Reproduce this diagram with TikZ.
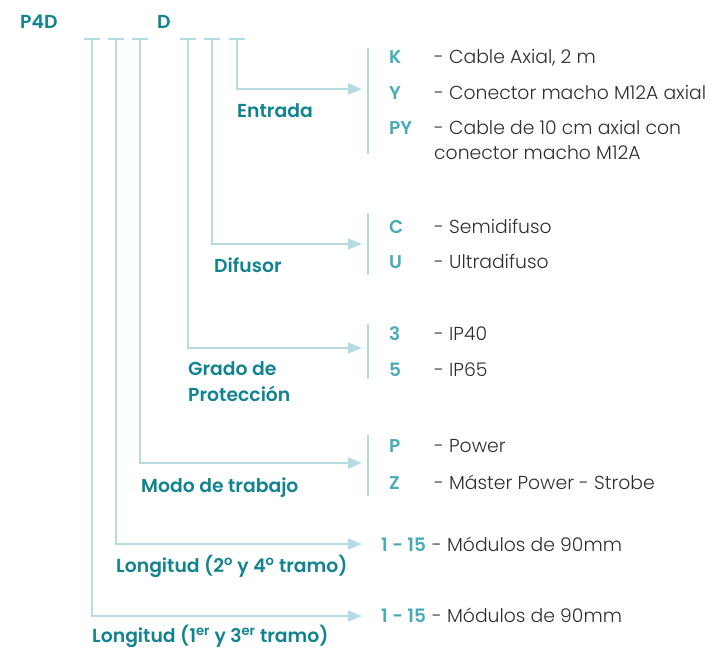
\documentclass[tikz,border=0pt]{standalone}
\usepackage{fontspec}
\setmainfont{Poppins}[UprightFont={* Light}, BoldFont={* SemiBold}]
\usepackage{tikz}
\usetikzlibrary{positioning}
\usetikzlibrary{calc}
\usetikzlibrary{arrows.meta}

\definecolor{tealdark}{HTML}{12848F}
\definecolor{teallight}{HTML}{4AABB8}
\definecolor{tealline}{HTML}{B5DCE3}
\definecolor{greytext}{HTML}{2E2E2E}

\tikzset{
  wire/.style={draw=tealline, line width=1.4pt},
  toarrow/.style={wire, -{Triangle[length=14pt,width=11pt]}},
  lbl/.style={inner sep=0pt, anchor=base west, text=tealdark, font=\fontsize{18.8}{22}\selectfont\bfseries},
  code/.style={inner sep=0pt, anchor=base west, text=teallight, font=\fontsize{18.5}{22}\selectfont\bfseries},
  desc/.style={inner sep=0pt, anchor=base west, text=greytext, font=\fontsize{18.8}{22}\selectfont},
}

\begin{document}
\begin{tikzpicture}[x=1pt, y=-1pt]
\useasboundingbox (0,0) rectangle (713,649);
\node[lbl] (p4d) at (20,28) {P4D};
\node[lbl] (dd) at (157,28) {D};
%%%%%%%%%%%%%% slots
\foreach \n/\x in {1/92,2/116,3/140,4/188,5/212,6/237}{
  \coordinate (s\n) at (\x,39);
  \draw[wire] ($(s\n)+(-8,0)$) -- ($(s\n)+(8,0)$);
}
%%%%%%%%%%%%%% bends and tips
\coordinate (b6) at (237,89);   \coordinate (t6) at (362,89);
\coordinate (b5) at (212,244);  \coordinate (t5) at (362,244);
\coordinate (b4) at (188,348);  \coordinate (t4) at (362,348);
\coordinate (b3) at (140,463);  \coordinate (t3) at (362,463);
\coordinate (b2) at (116,544);  \coordinate (t2) at (362,544);
\coordinate (b1) at (92,616);   \coordinate (t1) at (362,616);
%%%%%%%%%%%%%% brackets
\coordinate (k6a) at (368,48);  \coordinate (k6b) at (368,154);
\coordinate (k5a) at (368,213); \coordinate (k5b) at (368,275);
\coordinate (k4a) at (368,324); \coordinate (k4b) at (368,379);
\coordinate (k3a) at (368,435); \coordinate (k3b) at (368,496);
%%%%%%%%%%%%%% Entrada
\node[lbl] (entrada) at (237,117) {Entrada};
\node[code] (ck) at (389,63) {K};
\node[desc] (dk) at (434,63) {- Cable Axial, 2 m};
\node[code] (cy) at (389,99) {Y};
\node[desc] (dy) at (434,99) {- Conector macho M12A axial};
\node[code] (cpy) at (389,134) {PY};
\node[desc] (dpy) at (434,134) {- Cable de 10 cm axial con};
\node[desc] (dpy2) at (434,159) {conector macho M12A};
%%%%%%%%%%%%%% Difusor
\node[lbl] (difusor) at (214,272) {Difusor};
\node[code] (cc) at (389,233) {C};
\node[desc] (dc) at (434,233) {- Semidifuso};
\node[code] (cu) at (389,268) {U};
\node[desc] (du) at (434,268) {- Ultradifuso};
%%%%%%%%%%%%%% Grado de proteccion
\node[lbl] (grado) at (188,375) {Grado de};
\node[lbl] (proteccion) at (188,401) {Protección};
\node[code] (c3) at (389,340) {3};
\node[desc] (d3) at (434,340) {- IP40};
\node[code] (c5) at (389,376) {5};
\node[desc] (d5) at (434,376) {- IP65};
%%%%%%%%%%%%%% Modo de trabajo
\node[lbl] (modo) at (141,492) {Modo de trabajo};
\node[code] (cp) at (389,452) {P};
\node[desc] (dp) at (434,452) {- Power};
\node[code] (cz) at (389,489) {Z};
\node[desc] (dz) at (434,489) {- Máster Power - Strobe};
%%%%%%%%%%%%%% Longitud
\node[lbl] (long2) at (116,572) {Longitud (2\textsuperscript{o} y 4\textsuperscript{o} tramo)};
\node[code] (c15b) at (381,551) {1 - 15};
\node[desc] (d15b) at (432,551) {- Módulos de 90mm};
\node[lbl] (long1) at (92,642) {Longitud (1\textsuperscript{er} y 3\textsuperscript{er} tramo)};
\node[code] (c15a) at (381,622) {1 - 15};
\node[desc] (d15a) at (432,622) {- Módulos de 90mm};

\draw[toarrow] (s6) |- (t6);
\draw[toarrow] (s5) |- (t5);
\draw[toarrow] (s4) |- (t4);
\draw[toarrow] (s3) |- (t3);
\draw[toarrow] (s2) |- (t2);
\draw[toarrow] (s1) |- (t1);
%%%%%%%%%%%%%%
\draw[wire] (k6a) -- (k6b);
\draw[wire] (k5a) -- (k5b);
\draw[wire] (k4a) -- (k4b);
\draw[wire] (k3a) -- (k3b);
\end{tikzpicture}
\end{document}
